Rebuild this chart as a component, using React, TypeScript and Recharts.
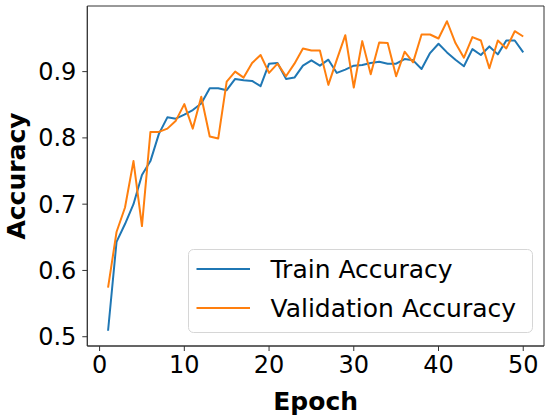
import React from 'react';
import { LineChart, Line, XAxis, YAxis, Legend, ReferenceArea, Label } from 'recharts';

const epochs = Array.from({ length: 50 }, (_, i) => i + 1);

const trainAccuracy = [
  0.509, 0.643, 0.670, 0.700, 0.744, 0.765, 0.806, 0.831, 0.829, 0.835,
  0.842, 0.852, 0.875, 0.875, 0.872, 0.889, 0.887, 0.886, 0.878, 0.912,
  0.913, 0.889, 0.891, 0.909, 0.917, 0.909, 0.918, 0.898, 0.903, 0.909,
  0.910, 0.913, 0.915, 0.912, 0.912, 0.919, 0.917, 0.904, 0.928, 0.942,
  0.929, 0.918, 0.908, 0.934, 0.925, 0.938, 0.926, 0.947, 0.947, 0.929,
];

const valAccuracy = [
  0.574, 0.658, 0.695, 0.765, 0.667, 0.809, 0.809, 0.814, 0.826, 0.851,
  0.814, 0.862, 0.802, 0.799, 0.885, 0.900, 0.891, 0.913, 0.925, 0.898,
  0.912, 0.893, 0.912, 0.935, 0.932, 0.932, 0.880, 0.918, 0.955, 0.876,
  0.946, 0.896, 0.944, 0.943, 0.893, 0.930, 0.914, 0.956, 0.956, 0.950,
  0.976, 0.943, 0.921, 0.952, 0.947, 0.905, 0.947, 0.935, 0.961, 0.953,
];

const xTicks = [0, 10, 20, 30, 40, 50];
const yTicks = [0.5, 0.6, 0.7, 0.8, 0.9];

const data = epochs.map((e, i) => ({ epoch: e, train: trainAccuracy[i], val: valAccuracy[i] }));

const X_DOMAIN: [number, number] = [-1.45, 52.45];
const Y_DOMAIN: [number, number] = [0.486, 0.999];

const BLUE = '#1f77b4';
const ORANGE = '#ff7f0e';
const FONT = '"DejaVu Sans", sans-serif';

const legendItems = [
  { label: 'Train Accuracy', color: BLUE },
  { label: 'Validation Accuracy', color: ORANGE },
];

const renderLegend = () => (
  <svg width={346} height={86} style={{ display: 'block' }}>
    <rect x={0.5} y={0.5} width={344} height={83} rx={5} ry={5} fill="#ffffff" fillOpacity={0.8} stroke="#d6d6d6" strokeWidth={1} />
    {legendItems.map((it, i) => (
      <g key={it.label}>
        <line x1={8.5} x2={62} y1={20 + i * 39} y2={20 + i * 39} stroke={it.color} strokeWidth={2} />
        <text x={82.5} y={29 + i * 39} fontSize={25} fontFamily={FONT} fill="#000">{it.label}</text>
      </g>
    ))}
  </svg>
);

const YLabel = (props: any) => {
  const vb = props.viewBox ?? { x: 0, y: 6, width: 87, height: 340 };
  const cx = vb.x + 25;
  const cy = vb.y + vb.height / 2;
  return (
    <text x={cx} y={cy} transform={`rotate(-90 ${cx} ${cy})`} textAnchor="middle" fontSize={25} fontWeight="bold" fontFamily={FONT} fill="#000">
      Accuracy
    </text>
  );
};

export default function App() {
  return (
    <div style={{ position: 'absolute', left: 0, top: 0 }}>
      <LineChart width={550} height={417} data={data} margin={{ top: 6, right: 6, bottom: 0, left: 0 }} style={{ fontFamily: FONT }}>
        <XAxis
          dataKey="epoch"
          type="number"
          domain={X_DOMAIN}
          ticks={xTicks}
          allowDataOverflow
          height={71}
          tickSize={5}
          tickMargin={5}
          tick={{ fontSize: 24, fill: '#000', fontFamily: FONT }}
          tickLine={{ stroke: '#333' }}
          axisLine={{ stroke: '#333' }}
        >
          <Label value="Epoch" position="insideBottom" offset={7.5} fontSize={25} fontWeight="bold" fill="#000" fontFamily={FONT} />
        </XAxis>
        <YAxis
          type="number"
          domain={Y_DOMAIN}
          ticks={yTicks}
          allowDataOverflow
          width={87.3}
          tickSize={5}
          tickMargin={6}
          tickFormatter={(v: number) => v.toFixed(1)}
          tick={{ fontSize: 24, fill: '#000', fontFamily: FONT }}
          tickLine={{ stroke: '#333' }}
          axisLine={{ stroke: '#333' }}
        >
          <Label content={YLabel} />
        </YAxis>
        <ReferenceArea x1={X_DOMAIN[0]} x2={X_DOMAIN[1]} y1={Y_DOMAIN[0]} y2={Y_DOMAIN[1]} fill="none" stroke="#333" strokeWidth={1} ifOverflow="visible" />
        <Line dataKey="train" stroke={BLUE} strokeWidth={2} dot={false} strokeLinejoin="round" isAnimationActive={false} />
        <Line dataKey="val" stroke={ORANGE} strokeWidth={2} dot={false} strokeLinejoin="round" isAnimationActive={false} />
        <Legend
          layout="horizontal"
          verticalAlign="middle"
          align="center"
          content={renderLegend}
          wrapperStyle={{ position: 'absolute', left: 188, top: 249, width: 346, height: 86 }}
        />
      </LineChart>
    </div>
  );
}
